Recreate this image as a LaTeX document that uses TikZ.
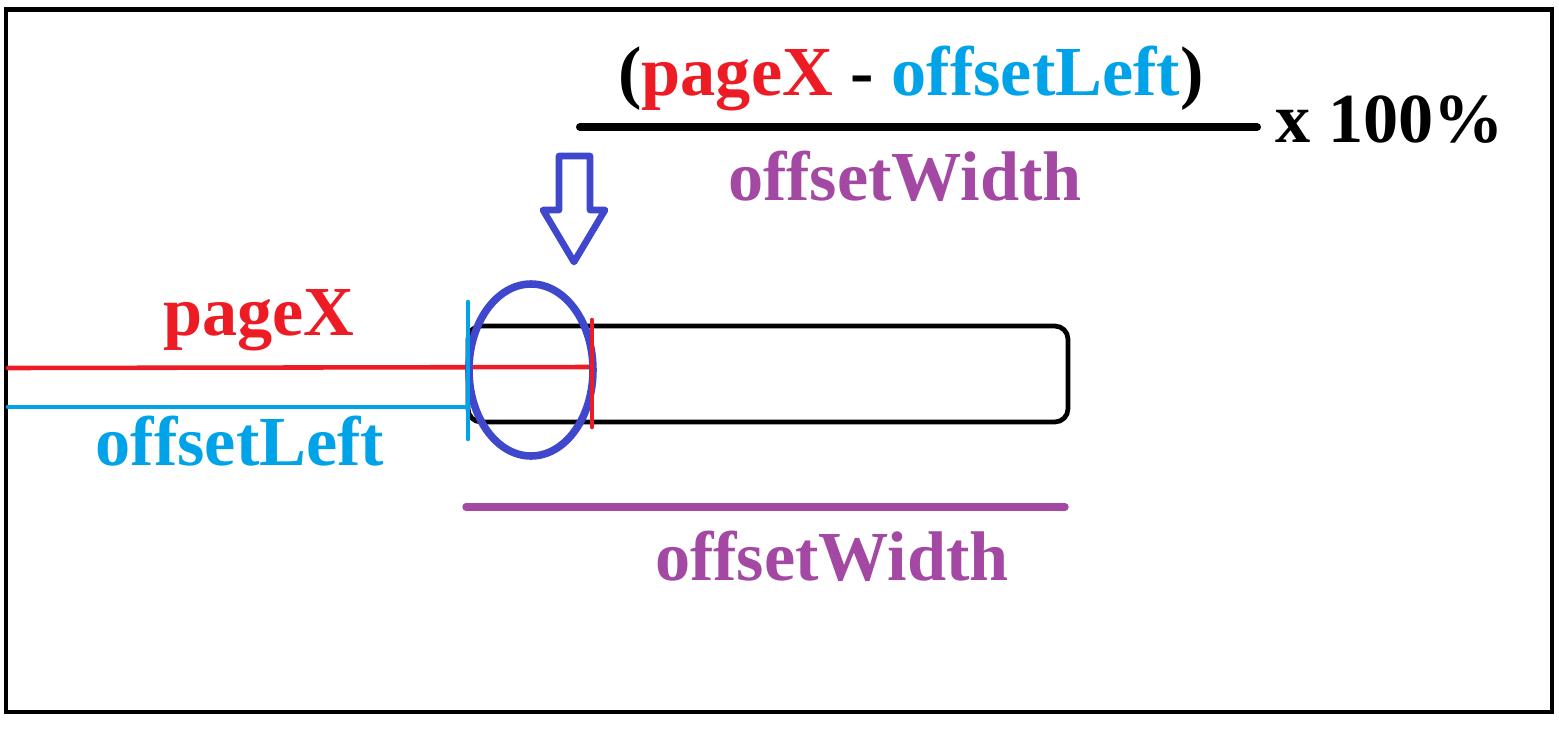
\documentclass[tikz,border=0pt]{standalone}
\usepackage{fontspec}
\setmainfont{Liberation Serif}
\usepackage{xcolor}
\usepackage{tikz}
\usetikzlibrary{calc}
\usetikzlibrary{shapes.geometric}
\definecolor{pxred}{HTML}{ED1C24}
\definecolor{pxblue}{HTML}{00A2E8}
\definecolor{pxpurple}{HTML}{A349A4}
\definecolor{pxindigo}{HTML}{3F48CC}
\tikzset{
	lbl/.style={
			inner sep=0pt, anchor=base,
			font=\bfseries\fontsize{40}{48}\selectfont
		},
	measure/.style={line width=2.6pt, line cap=round}
}

\begin{document}
\begin{tikzpicture}[x=0.02cm,y=-0.02cm]
		\useasboundingbox (0,0) rectangle (1559,734);
		\draw[line width=2.8pt] (6,9.5) rectangle (1552,712);
		\draw[line width=2.7pt, rounded corners=7.5pt] (468,326) rectangle (1068,422);
		\coordinate (redstart) at (8,368);
		\coordinate (redend) at (592,367);
		\coordinate (bluestart) at (8,407);
		\coordinate (blueend) at (468,407);
		\draw[measure,pxblue] (bluestart) -- (blueend);
		\draw[measure,pxred] (redstart) -- (redend);
		\draw[pxindigo,line width=4.3pt] (531,370) ellipse (62 and 86);
		\draw[measure,pxblue] (468,302) -- (468,439);
		\draw[measure,pxred] (592,320) -- (592,427);
		\draw[pxindigo,line width=3.8pt,line join=round] (559,156) -- (590,156) -- (590,210) -- (605,210) -- (574,262) -- (543,210) -- (559,210) -- cycle;
		\draw[pxpurple,line width=4.2pt,line cap=round] (466,507) -- (1065,507);
		\draw[line width=4.6pt,line cap=round] (580,127) -- (1257,127);
		\node[lbl,pxred] (pagex) at (259,335) {pageX};
		\node[lbl,pxblue] (offleft) at (240,465) {offsetLeft};
		\node[lbl,pxpurple] (widthlbl) at (832,580) {offsetWidth};
		\node[lbl] (numer) at (911,95) {(\textcolor{pxred}{pageX} - \textcolor{pxblue}{offsetLeft})};
		\node[lbl,pxpurple] (denom) at (905,200) {offsetWidth};
		\node[lbl] (percent) at (1390,142) {x 100\%};
	\end{tikzpicture}
\end{document}
